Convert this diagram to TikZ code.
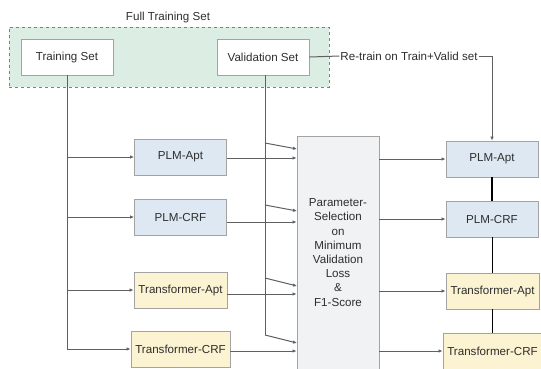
\documentclass[tikz,border=0pt]{standalone}
\usepackage{fontspec}
\setmainfont{Liberation Sans}
\usetikzlibrary{arrows.meta}
\definecolor{greenbg}{HTML}{DCEEE4}
\definecolor{bluebox}{HTML}{DEE8F2}
\definecolor{yelbox}{HTML}{FCF3D2}
\definecolor{graybox}{HTML}{F1F2F4}
\definecolor{edgec}{HTML}{A3A3A3}
\definecolor{linec}{HTML}{606060}
\definecolor{txtc}{HTML}{2E2E2E}
\tikzset{
  box/.style={draw=edgec, line width=0.9pt, minimum height=36pt, inner sep=0pt, text=txtc},
  whitebox/.style={box, fill=white, minimum width=92pt},
  bluenode/.style={box, fill=bluebox, minimum width=92pt},
  yelnode/.style={box, fill=yelbox},
  conn/.style={draw=linec, line width=1pt},
  arr/.style={conn, -{Latex[length=4pt,width=3.5pt]}},
  link/.style={draw=black, line width=1.3pt}
}
\begin{document}
\begin{tikzpicture}[x=1pt,y=-1pt, font=\fontsize{11.6}{14.2}\selectfont, text=txtc]
\useasboundingbox (0,0) rectangle (541,368);
% full training set area
\node[draw=linec!80, dashed, line width=0.8pt, fill=greenbg, minimum width=320pt, minimum height=60pt, inner sep=0pt] (full) at (169,57) {};
\node (fulllbl) at (168,17) {Full Training Set};
\node[whitebox] (ts) at (67,57) {Training Set};
\node[whitebox] (vs) at (263,57) {Validation Set};
% left models
\node[bluenode] (lpa) at (180.5,157) {PLM-Apt};
\node[bluenode] (lpc) at (180.5,217) {PLM-CRF};
\node[yelnode, minimum width=93pt] (lta) at (180.5,290) {Transformer-Apt};
\node[yelnode, minimum width=99pt] (ltc) at (180.5,349) {Transformer-CRF};
% parameter selection
\node[box, fill=graybox, minimum width=82pt, minimum height=250pt] (par) at (338,261) {};
\node[align=center, inner sep=0pt] (parlbl) at (338,252.5) {Parameter-\\Selection\\on\\Minimum\\Validation\\Loss\\\&\\F1-Score};
% right models
\node[bluenode] (rpa) at (492,159) {PLM-Apt};
\node[bluenode] (rpc) at (492,219) {PLM-CRF};
\node[yelnode, minimum width=93pt] (rta) at (492.5,291) {Transformer-Apt};
\node[yelnode, minimum width=99pt] (rtc) at (492.5,351) {Transformer-CRF};
% retrain
\node[inner sep=1pt] (retrain) at (409,56) {Re-train on Train+Valid set};
\draw[conn] (vs.east) -- (retrain.west);
\draw[arr] (retrain.east) -| (rpa.north);
% training set trunk
\draw[arr] (ts.south) |- (lpa.west);
\draw[arr] (ts.south) |- (lpc.west);
\draw[arr] (ts.south) |- (lta.west);
\draw[arr] (ts.south) |- (ltc.west);
% left models to parameter box
\draw[arr] ([yshift=-1pt]lpa.east) -- ([yshift=-1pt]lpa.east -| par.west);
\draw[arr] ([yshift=-5pt]lpc.east) -- ([yshift=-5pt]lpc.east -| par.west);
\draw[arr] ([yshift=-4pt]lta.east) -- ([yshift=-4pt]lta.east -| par.west);
\draw[arr] ([yshift=-2pt]ltc.east) -- ([yshift=-2pt]ltc.east -| par.west);
% validation trunk and fans
\coordinate (v1) at (265,143);
\coordinate (v2) at (265,205);
\coordinate (v3) at (265,278);
\coordinate (v4) at (265,335);
\coordinate (p1) at (297,149);
\coordinate (p2) at (297,211);
\coordinate (p3) at (297,286);
\coordinate (p4) at (297,343);
\draw[conn] ([xshift=2pt]vs.south) -- (v4);
\draw[arr] (v1) -- (p1);
\draw[arr] (v2) -- (p2);
\draw[arr] (v3) -- (p3);
\draw[arr] (v4) -- (p4);
% parameter box to right models
\draw[arr] (par.east |- rpa.west) -- (rpa.west);
\draw[arr] (par.east |- rpc.west) -- (rpc.west);
\draw[arr] (par.east |- rta.west) -- (rta.west);
\draw[arr] (par.east |- rtc.west) -- (rtc.west);
% links between right models
\draw[link] (rpa.south) -- (rpc.north);
\draw[link] ([xshift=0.5pt]rpc.south) -- (rta.north);
\draw[link] (rta.south) -- (rtc.north);
\end{tikzpicture}
\end{document}
